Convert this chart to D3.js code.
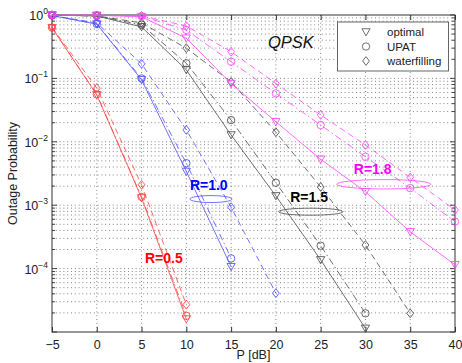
<!DOCTYPE html>
<html>
<head>
<meta charset="utf-8">
<script src="https://cdn.jsdelivr.net/npm/d3@7"></script>
<style>
  html, body { margin: 0; padding: 0; background: #fff; }
  svg { display: block; font-family: Arial, "Liberation Sans", sans-serif; }
</style>
</head>
<body>
<svg id="chart" width="462" height="363"></svg>
<script>
// Transmit power in dB
const powerDb = [-5, 0, 5, 10, 15, 20, 25, 30, 35, 40];

// Outage probability, R = 0.5
const r05Optimal = [0.63, 0.055, 1.3e-3, 1.6e-5];
const r05Upat    = [0.63, 0.056, 1.35e-3, 1.8e-5];
const r05Water   = [0.64, 0.07, 2.1e-3, 2.7e-5];

// R = 1.0
const r10Optimal = [0.98, 0.72, 0.095, 3.4e-3, 1.07e-4];
const r10Upat    = [0.98, 0.72, 0.10, 4.6e-3, 1.45e-4];
const r10Water   = [0.98, 0.75, 0.17, 0.0154, 9.3e-4, 4.1e-5];

// R = 1.5
const r15Optimal = [0.995, 0.965, 0.65, 0.136, 0.0128, 1.4e-3, 1.37e-4, 1.14e-5];
const r15Upat    = [0.995, 0.965, 0.70, 0.173, 0.022, 2.26e-3, 2.3e-4, 1.97e-5];
const r15Water   = [0.995, 0.97, 0.75, 0.30, 0.088, 0.0142, 1.94e-3, 2.35e-4, 1.97e-5];

// R = 1.8
const r18Optimal = [0.995, 0.99, 0.94, 0.43, 0.083, 0.0207, 5.3e-3, 1.63e-3, 3.8e-4, 1.15e-4];
const r18Upat    = [0.995, 0.99, 0.96, 0.58, 0.183, 0.058, 0.0184, 5.8e-3, 1.86e-3, 5.5e-4];
const r18Water   = [0.995, 0.99, 0.97, 0.67, 0.264, 0.083, 0.0265, 8.9e-3, 2.75e-3, 8.4e-4];

const rateLabels = ["R=0.5", "R=1.0", "R=1.5", "R=1.8"];
const schemeNames = ["optimal", "UPAT", "waterfilling"];
const xTicks = [-5, 0, 5, 10, 15, 20, 25, 30, 35, 40];
const yTickExponents = [0, -1, -2, -3, -4];

const colors = ["#ff4545", "#5050ff", "#4a4a4a", "#ff45ff"];
const labelColors = ["#ff0000", "#0000ff", "#000000", "#ff00ff"];
const dashes = [null, "7,3,1.5,3", "6,4"];
const markers = ["tri", "circle", "diamond"];

const groups = [
  [r05Optimal, r05Upat, r05Water],
  [r10Optimal, r10Upat, r10Water],
  [r15Optimal, r15Upat, r15Water],
  [r18Optimal, r18Upat, r18Water]
];

// Annotation anchors: label position and the ellipse around each rate's curve bundle
const annotations = [
  { text: rateLabels[0], tx: 5.38, ty: 1.21e-4, ex: null },
  { text: rateLabels[1], tx: 10.4, ty: 1.74e-3, ex: [10.4, 15.1], ey: 1.25e-3, ry: 3.5 },
  { text: rateLabels[2], tx: 21.6, ty: 1.13e-3, ex: [20.3, 27.5], ey: 7.9e-4, ry: 3.5 },
  { text: rateLabels[3], tx: 28.7, ty: 3.1e-3, ex: [26.8, 37.3], ey: 2.14e-3, ry: 4.7 }
];

const svg = d3.select("#chart");
const L = 52, R = 455, T = 15, B = 332;

const x = d3.scaleLinear().domain([-5, 40]).range([L, R]);
const y = d3.scaleLog().domain([1e-5, 1]).range([B, T]);

// grid
const grid = svg.append("g").attr("stroke", "#666").attr("stroke-width", 0.8)
  .attr("stroke-dasharray", "1,2.8");
xTicks.slice(1, -1).forEach(v => {
  grid.append("line").attr("x1", x(v)).attr("x2", x(v)).attr("y1", T).attr("y2", B);
});
const yGridVals = [];
for (let e = -5; e < 0; e++) {
  for (let m = 1; m < 10; m++) yGridVals.push(m * Math.pow(10, e));
}
yGridVals.filter(v => v > 1e-5 * 1.001).forEach(v => {
  grid.append("line").attr("x1", L).attr("x2", R).attr("y1", y(v)).attr("y2", y(v));
});

// axes box
const axisColor = "#333";
svg.append("rect").attr("x", L).attr("y", T).attr("width", R - L).attr("height", B - T)
  .attr("fill", "none").attr("stroke", axisColor).attr("stroke-width", 1);

const xAxisB = d3.axisBottom(x).tickValues(xTicks).tickSize(-5).tickPadding(8).tickFormat(d => d < 0 ? "\u2212" + Math.abs(d) : d);
const gx = svg.append("g").attr("transform", `translate(0,${B})`).call(xAxisB);
gx.select(".domain").remove();
gx.selectAll("line").attr("stroke", axisColor);
gx.selectAll("text").attr("font-size", 12.5).attr("fill", "#222").attr("font-family", "Arial, 'Liberation Sans', sans-serif");

const xAxisT = d3.axisTop(x).tickValues(xTicks).tickSize(-5).tickFormat("");
const gxt = svg.append("g").attr("transform", `translate(0,${T})`).call(xAxisT);
gxt.select(".domain").remove();
gxt.selectAll("line").attr("stroke", axisColor);

// y ticks (major + minor), both sides
const yMajor = yTickExponents.map(e => Math.pow(10, e)).concat([1e-5]);
[[L, 1], [R, -1]].forEach(([px, dir]) => {
  yGridVals.concat([1]).forEach(v => {
    const isMajor = yMajor.some(m => Math.abs(Math.log10(v) - Math.log10(m)) < 1e-6);
    const len = isMajor ? 5 : 3;
    svg.append("line").attr("x1", px).attr("x2", px + dir * len)
      .attr("y1", y(v)).attr("y2", y(v)).attr("stroke", axisColor).attr("stroke-width", 0.9);
  });
});

// y tick labels
yTickExponents.forEach(e => {
  const t = svg.append("text").attr("x", L - 4).attr("y", y(Math.pow(10, e)) + 5)
    .attr("text-anchor", "end").attr("font-size", 12.5).attr("fill", "#222");
  t.append("tspan").text("10");
  t.append("tspan").attr("dy", -6).attr("font-size", 8.5).text(e === 0 ? "0" : "\u2212" + Math.abs(e));
});

// axis titles
svg.append("text").attr("x", (L + R) / 2).attr("y", 359).attr("text-anchor", "middle")
  .attr("font-size", 12.5).attr("fill", "#222").text("P [dB]");
svg.append("text").attr("transform", `translate(17,${(T + B) / 2}) rotate(-90)`)
  .attr("text-anchor", "middle").attr("font-size", 12.5).attr("fill", "#222").text("Outage Probability");

// marker shapes
function drawMarker(g, type, cx, cy, color) {
  if (type === "circle") {
    g.append("circle").attr("cx", cx).attr("cy", cy).attr("r", 3.7)
      .attr("fill", "none").attr("stroke", color).attr("stroke-width", 0.85);
  } else if (type === "tri") {
    const s = 4.1;
    g.append("path").attr("d", `M${cx - s},${cy - s * 0.8}L${cx + s},${cy - s * 0.8}L${cx},${cy + s * 0.95}Z`)
      .attr("fill", "none").attr("stroke", color).attr("stroke-width", 0.85);
  } else {
    const w = 3.4, h = 4.4;
    g.append("path").attr("d", `M${cx},${cy - h}L${cx + w},${cy}L${cx},${cy + h}L${cx - w},${cy}Z`)
      .attr("fill", "none").attr("stroke", color).attr("stroke-width", 0.85);
  }
}

const line = d3.line().x(d => x(d[0])).y(d => y(d[1]));
const curves = svg.append("g");
groups.forEach((schemes, gi) => {
  schemes.forEach((vals, si) => {
    const pts = vals.map((v, i) => [powerDb[i], v]);
    const p = curves.append("path").datum(pts).attr("d", line)
      .attr("fill", "none").attr("stroke", colors[gi]).attr("stroke-width", 0.8);
    if (dashes[si]) p.attr("stroke-dasharray", dashes[si]);
    pts.forEach(d => drawMarker(curves, markers[si], x(d[0]), y(d[1]), colors[gi]));
  });
});

// rate annotations
annotations.forEach((a, i) => {
  svg.append("text").attr("x", x(a.tx)).attr("y", y(a.ty)).attr("font-size", 14)
    .attr("font-weight", "bold").attr("fill", labelColors[i]).text(a.text);
  if (a.ex) {
    const x1 = x(a.ex[0]), x2 = x(a.ex[1]);
    svg.append("ellipse").attr("cx", (x1 + x2) / 2).attr("cy", y(a.ey))
      .attr("rx", (x2 - x1) / 2).attr("ry", a.ry)
      .attr("fill", "none").attr("stroke", colors[i]).attr("stroke-width", 0.8);
  }
});

// scheme title
svg.append("text").attr("x", 268).attr("y", 48).attr("font-size", 16.5)
  .attr("font-style", "italic").attr("fill", "#111").text("QPSK");

// legend
const lg = svg.append("g");
lg.append("rect").attr("x", 337.5).attr("y", 22).attr("width", 111).attr("height", 49)
  .attr("fill", "#fff").attr("stroke", "#555").attr("stroke-width", 0.9);
schemeNames.forEach((name, i) => {
  const cy = 32 + i * 14.5;
  drawMarker(lg, markers[i], 366, cy, "#555");
  lg.append("text").attr("x", 387).attr("y", cy + 4).attr("font-size", 11.5)
    .attr("fill", "#222").text(name);
});
</script>
</body>
</html>
